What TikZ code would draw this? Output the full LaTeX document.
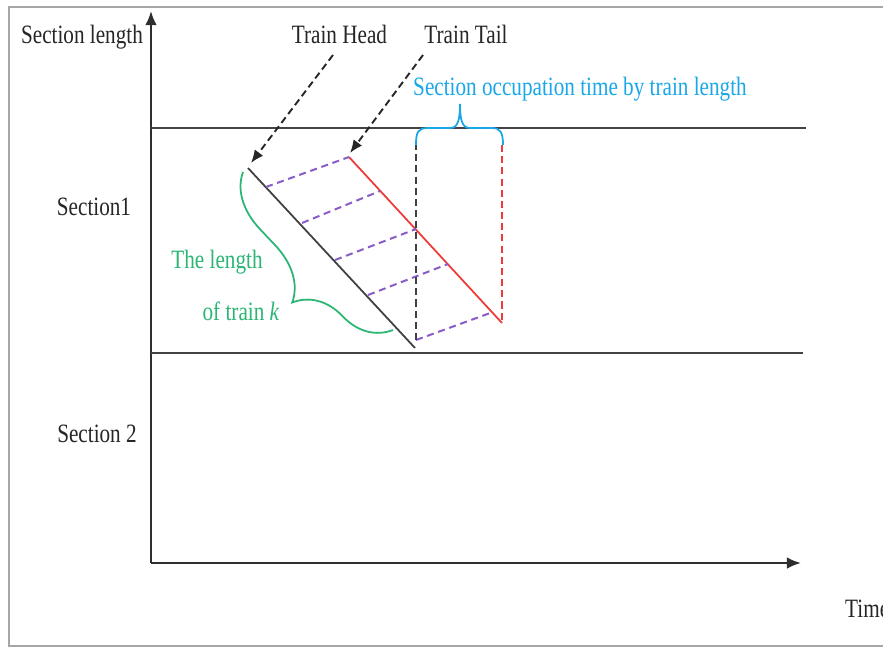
\documentclass[tikz,border=0pt]{standalone}
\usepackage{fontspec}
\setmainfont{Liberation Serif}
\usetikzlibrary{arrows.meta,decorations.pathreplacing}
\definecolor{cyanc}{HTML}{1AA7E8}
\definecolor{greenc}{HTML}{2BB673}
\definecolor{purplec}{HTML}{8A5CC7}
\definecolor{redc}{HTML}{F03A3A}
\definecolor{axisc}{HTML}{2E2E2E}
\newcommand{\tx}[1]{\scalebox{1}[1.25]{#1}}
\begin{document}
\begin{tikzpicture}[x=0.85pt,y=-0.85pt,
  lbl/.style={font=\fontsize{18}{20}\selectfont, inner sep=0pt, text=black!85, anchor=base},
  axisline/.style={draw=axisc, line width=2pt},
  hline/.style={draw=axisc!90, line width=1.9pt},
  tip/.style={-{Latex[length=12pt,width=10pt]}},
  ptr/.style={draw=black!85, line width=1.6pt, dash pattern=on 6pt off 3.5pt, -{Latex[length=11pt,width=9pt]}},
  purp/.style={draw=purplec, line width=1.7pt, dash pattern=on 6pt off 4pt},
  trainline/.style={line width=1.5pt}
]
\useasboundingbox (0,0) rectangle (883,648);
\fill[white] (0,0) rectangle (883,648);
\draw[gray!70, line width=1.4pt] (9,7) rectangle (900,646);

% axes
\coordinate (O) at (151,563);
\coordinate (Ytop) at (151,11);
\coordinate (Xend) at (801,563);
\draw[axisline, tip] (O) -- (Ytop);
\draw[axisline, tip] (O) -- (Xend);
\coordinate (L1a) at (151,128);
\coordinate (L1b) at (806,128);
\coordinate (L2a) at (151,353);
\coordinate (L2b) at (803,353);
\draw[hline] (L1a) -- (L1b);
\draw[hline] (L2a) -- (L2b);

% labels
\node[lbl] (seclen) at (82,43) {\tx{Section length}};
\node[lbl] (sec1) at (94,215) {\tx{Section1}};
\node[lbl] (sec2) at (97,442) {\tx{Section 2}};
\node[lbl, anchor=base west] (time) at (845,617) {\tx{Time}};
\node[lbl] (headlbl) at (339.5,43) {\tx{Train Head}};
\node[lbl] (taillbl) at (466,43) {\tx{Train Tail}};
\node[lbl, text=cyanc, anchor=base west] (occ) at (413,95) {\tx{Section occupation time by train length}};
\node[lbl, text=greenc] (len1) at (217,268) {\tx{The length}};
\node[lbl, text=greenc] (len2) at (241,320) {\tx{of train \textit{k}}};

% train lines
\coordinate (H1) at (248,168);
\coordinate (H2) at (415,348);
\coordinate (T1) at (349,157);
\coordinate (T2) at (502,323);
\draw[trainline, draw=black!75] (H1) -- (H2);
\draw[trainline, draw=redc] (T1) -- (T2);

% purple links
\coordinate (Pa1) at (266,187);
\coordinate (Pa2) at (302,223); \coordinate (Pb2) at (380,191);
\coordinate (Pa3) at (335,260); \coordinate (Pb3) at (416,229);
\coordinate (Pa4) at (368,295); \coordinate (Pb4) at (448,264);
\coordinate (Pa5) at (416,340); \coordinate (Pb5) at (493,312);
\draw[purp] (Pa1) -- (T1);
\draw[purp] (Pa2) -- (Pb2);
\draw[purp] (Pa3) -- (Pb3);
\draw[purp] (Pa4) -- (Pb4);
\draw[purp] (Pa5) -- (Pb5);

% vertical dashed
\coordinate (Vb1) at (416,143);
\coordinate (Vr1) at (502,145);
\draw[draw=black!75, line width=1.6pt, dash pattern=on 6pt off 3.5pt] (Vb1) -- (Pa5);
\draw[draw=redc, line width=1.6pt, dash pattern=on 6pt off 3.5pt] (Vr1) -- (T2);

% pointers
\coordinate (hp) at (333,55);
\coordinate (hq) at (251,163);
\coordinate (tp) at (423,55);
\coordinate (tq) at (350,153);
\draw[ptr] (hp) -- (hq);
\draw[ptr] (tp) -- (tq);

% cyan brace
\draw[cyanc, line width=1.5pt] (416,145) .. controls (416,132) and (418,128) .. (428,128)
  -- (450,128) .. controls (457,128) and (460,122) .. (460,104)
  .. controls (460,122) and (463,128) .. (470,128)
  -- (492,128) .. controls (500,128) and (503,132) .. (503,145);

% green brace
\coordinate (Gb) at (393,330);
\coordinate (Gt) at (243,172);
\draw[greenc, line width=1.5pt, decorate, decoration={brace, amplitude=46pt, aspect=0.41}] (Gb) -- (Gt);
\end{tikzpicture}
\end{document}
